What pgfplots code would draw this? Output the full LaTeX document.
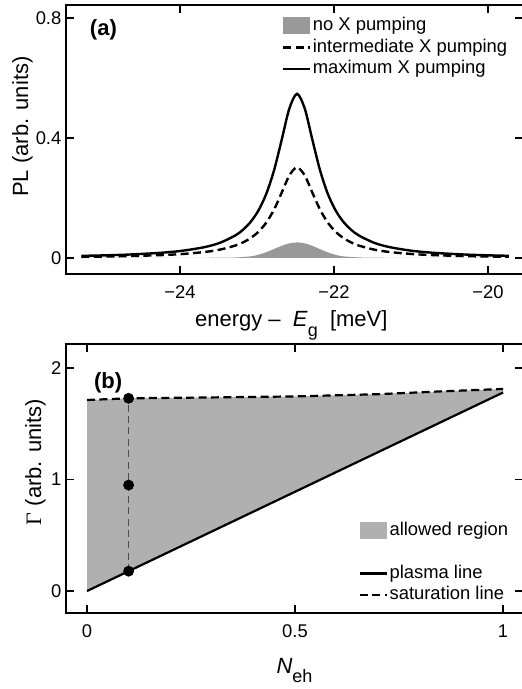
\documentclass[border=0pt]{standalone}
\usepackage{fontspec}
\setmainfont{Liberation Sans}
\newfontfamily\seriffont{Liberation Serif}
\usepackage{pgfplots}
\pgfplotsset{compat=1.18}
\definecolor{fillA}{gray}{0.60}
\definecolor{fillB}{gray}{0.69}
\definecolor{vline}{gray}{0.30}
\pgfplotsset{
  myline legend/.style={legend image code/.code={\draw[##1] (0pt,0pt) -- (13.5pt,0pt);}},
  mybox legend/.style={legend image code/.code={\fill[##1] (0pt,-4.25pt) rectangle (13.5pt,4.25pt);}},
  myaxis/.style={
    scale only axis, width=228.5pt, height=134.5pt,
    axis line style={line width=0.9pt, black},
    every tick/.style={line width=0.8pt, black},
    major tick length=4pt,
    tick align=inside,
    xtick pos=both, ytick pos=both,
    tick label style={font=\fontsize{9.2}{11}\selectfont},
    xticklabel style={yshift=-2.2pt},
    yticklabel style={xshift=1.2pt},
    label style={font=\fontsize{11}{13}\selectfont},
    myline legend,
    legend cell align=left,
    legend style={draw=none, fill=none, inner sep=0pt, row sep=0.25pt,
      nodes={inner sep=0.75pt, text height=7pt, text depth=2pt, font=\fontsize{9.2}{11}\selectfont}},
  }
}
\begin{document}
\begin{tikzpicture}[font=\fontsize{9.2}{11}\selectfont]
% ---------------- panel (a)
\begin{axis}[myaxis, at={(33pt,-2.5pt)}, anchor=north west,
  xmin=-25.481, xmax=-19.545, ymin=-0.0533, ymax=0.843,
  xtick={-24,-22,-20}, xticklabels={−24,−22,−20},
  ytick={0,0.4,0.8}, yticklabels={0,0.4,0.8},
  xlabel={energy –\ \ \textit{E}\raisebox{-4.7pt}{\fontsize{9}{10}\selectfont g}\ \ [meV]},
  xlabel style={at={(axis description cs:0.493,-0.197)}, anchor=base},
  ylabel={PL (arb. units)},
  ylabel style={at={(axis description cs:-0.0952,0.548)}, anchor=center},
  legend style={at={(axis description cs:0.4716,0.963)}, anchor=north west},
]
\addplot[fill=fillA, draw=none, smooth, mybox legend] coordinates {
(-25.28,0) (-23.98,0.0005) (-23.48,0.001) (-23.28,0.0018) (-23.08,0.0055)
(-22.98,0.0110) (-22.88,0.0195) (-22.78,0.0298) (-22.68,0.0405) (-22.58,0.0488)
(-22.48,0.052) (-22.38,0.0488) (-22.28,0.0403) (-22.18,0.0293) (-22.08,0.0187)
(-21.98,0.0106) (-21.88,0.0055) (-21.68,0.0020) (-21.48,0.001) (-20.98,0.0005) (-19.73,0)
} \closedcycle;
\addlegendentry{no X pumping}
\addplot[black, line width=1.2pt, dash pattern=on 4pt off 2.2pt, smooth] coordinates {
(-25.28,0.0039) (-24.98,0.0049) (-24.68,0.0062) (-24.28,0.0093) (-23.98,0.0131)
(-23.68,0.0200) (-23.48,0.0280) (-23.28,0.0416) (-23.18,0.0522) (-23.08,0.0668)
(-22.98,0.0878) (-22.88,0.1178) (-22.78,0.1606) (-22.68,0.217) (-22.58,0.275)
(-22.48,0.302) (-22.38,0.275) (-22.28,0.217) (-22.18,0.1606) (-22.08,0.1178)
(-21.98,0.0878) (-21.88,0.0668) (-21.78,0.0522) (-21.68,0.0416) (-21.48,0.0280)
(-21.28,0.0200) (-20.98,0.0131) (-20.68,0.0093) (-20.28,0.0062) (-19.98,0.0049) (-19.73,0.0040)
};
\addlegendentry{intermediate X pumping}
\addplot[black, line width=1.2pt, smooth] coordinates {
(-25.28,0.0071) (-24.98,0.0088) (-24.68,0.0113) (-24.28,0.0168) (-23.98,0.0238)
(-23.68,0.0363) (-23.48,0.0508) (-23.28,0.0754) (-23.18,0.0946) (-23.08,0.1211)
(-22.98,0.159) (-22.88,0.2135) (-22.78,0.291) (-22.68,0.393) (-22.58,0.498)
(-22.48,0.547) (-22.38,0.498) (-22.28,0.393) (-22.18,0.291) (-22.08,0.2135)
(-21.98,0.159) (-21.88,0.1211) (-21.78,0.0946) (-21.68,0.0754) (-21.48,0.0508)
(-21.28,0.0363) (-20.98,0.0238) (-20.68,0.0168) (-20.28,0.0113) (-19.98,0.0088) (-19.73,0.0073)
};
\addlegendentry{maximum X pumping}
\node[anchor=base west, font=\fontsize{11}{13}\selectfont\bfseries] at (axis description cs:0.037,0.885) {(a)};
\end{axis}
% ---------------- panel (b)
\begin{axis}[myaxis, at={(33pt,-172pt)}, anchor=north west,
  xmin=-0.0505, xmax=1.048, ymin=-0.197, ymax=2.215,
  xtick={0,0.5,1}, xticklabels={0,0.5,1},
  ytick={0,1,2}, yticklabels={0,1,2},
  xlabel={\textit{N}\raisebox{-5pt}{\fontsize{9}{10}\selectfont eh}},
  xlabel style={at={(axis description cs:0.5,-0.223)}, anchor=base},
  ylabel={{\seriffont Γ} (arb. units)},
  ylabel style={at={(axis description cs:-0.0667,0.561)}, anchor=center},
  legend style={at={(axis description cs:0.640,0.3476)}, anchor=north west},
]
\addplot[fill=fillB, draw=none, mybox legend] coordinates {
(0,0) (1,1.78) (1,1.812) (0.85,1.79) (0.7,1.765) (0.5,1.745) (0.3,1.736) (0.1,1.728) (0,1.713)
} -- cycle;
\addlegendentry{allowed region}
\addlegendimage{empty legend}
\addlegendentry{}
\addplot[black, line width=1.1pt] coordinates {(0,0) (1,1.78)};
\addlegendentry{plasma line}
\addplot[black, line width=1.1pt, dash pattern=on 4pt off 2.2pt] coordinates {
(0,1.713) (0.1,1.728) (0.3,1.736) (0.5,1.745) (0.7,1.765) (0.85,1.79) (1,1.812)
};
\addlegendentry{saturation line}
\addplot[vline, line width=0.6pt, dash pattern=on 3.5pt off 2.2pt, forget plot] coordinates {(0.1,0.178) (0.1,1.728)};
\addplot[only marks, mark=*, mark size=2.5pt, black, forget plot] coordinates {(0.1,0.178) (0.1,0.95) (0.1,1.728)};
\node[anchor=base west, font=\fontsize{11}{13}\selectfont\bfseries] at (axis description cs:0.046,0.836) {(b)};
\end{axis}
\pgfresetboundingbox
\path[use as bounding box] (0,0) rectangle (260.5pt,-344.5pt);
\end{tikzpicture}
\end{document}
